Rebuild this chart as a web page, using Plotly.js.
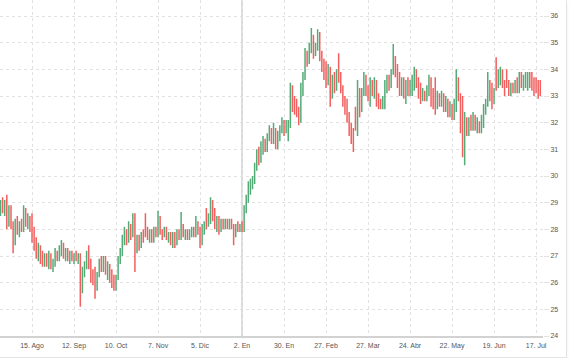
<!DOCTYPE html>
<html>
<head>
<meta charset="utf-8">
<script src="https://cdn.plot.ly/plotly-3.0.1.min.js"></script>
<style>
html,body{margin:0;padding:0;background:#fff;}
#wrap{width:566px;height:357px;border-right:1px solid #e4e4e4;border-bottom:1px solid #e4e4e4;box-shadow:0 3px 3px #eeeeee;}
#chart{width:566px;height:357px;}
</style>
</head>
<body>
<div id="wrap"><div id="chart"></div></div>
<script>
// trading days start
const startDate = '2022-07-25';
const barCount = 258;

const openVals = [
28.7,29.0,28.8,29.0,28.2,28.7,28.1,27.5,28.2,27.9,
28.1,28.0,28.7,28.3,28.4,28.0,27.7,27.4,27.1,27.3,
26.9,26.8,27.0,26.7,27.0,26.6,26.7,27.1,26.9,27.2,
27.4,27.0,27.2,26.9,27.1,26.9,27.0,26.9,27.0,25.9,
26.4,26.6,27.0,26.7,26.2,26.1,25.8,26.3,26.8,26.5,
26.9,26.4,26.6,26.2,26.0,25.9,26.2,26.9,27.2,27.6,
27.9,27.6,28.1,27.8,28.3,27.2,27.6,27.4,27.8,28.4,
27.9,27.7,27.9,27.6,28.0,27.8,28.4,27.9,27.8,28.0,
27.7,27.8,27.5,27.8,27.5,27.9,27.7,28.1,27.8,27.9,
27.7,27.9,28.0,27.8,28.2,27.9,27.5,28.0,28.7,28.2,
28.5,29.0,28.4,28.1,28.4,28.0,28.3,28.1,28.3,28.1,
28.3,28.1,27.8,28.1,28.0,28.1,28.0,28.8,29.1,29.5,
29.7,29.8,30.3,30.8,30.6,31.1,31.3,31.0,31.4,31.7,
31.4,31.5,31.2,31.5,31.8,32.0,31.7,31.6,31.9,33.2,
32.7,32.5,32.4,32.1,33.2,33.7,34.5,34.3,34.8,35.2,
34.6,34.9,35.3,34.5,34.1,33.8,33.5,34.0,33.0,33.6,
33.3,34.4,33.7,33.3,32.8,32.5,32.2,31.8,31.6,32.5,
31.9,33.2,32.5,33.1,33.6,33.2,33.0,33.4,33.1,33.5,
32.8,32.7,32.6,32.9,33.4,33.6,33.4,33.9,34.4,33.9,
33.5,33.2,33.6,33.1,33.5,33.2,33.4,33.6,33.9,33.5,
33.1,32.9,33.1,32.9,33.2,33.5,32.9,33.5,32.6,33.0,
32.8,33.0,32.6,32.8,32.4,32.5,32.3,32.7,33.6,33.0,
32.4,31.0,32.1,31.7,32.0,31.9,32.2,31.8,32.0,31.7,
32.2,32.5,32.8,33.5,33.4,32.8,34.2,33.5,33.8,33.9,
33.5,33.9,33.4,33.2,33.4,33.3,33.5,33.2,33.7,33.5,
33.7,33.4,33.8,33.5,33.4,33.6,33.3,33.4];

const highVals = [
29.1,29.2,29.1,29.3,28.9,28.9,28.3,28.4,28.5,28.3,
28.4,28.9,28.8,28.6,28.5,28.6,28.1,27.7,27.5,27.4,
27.2,27.1,27.1,27.2,27.1,26.9,27.3,27.2,27.4,27.6,
27.5,27.3,27.3,27.2,27.2,27.1,27.2,27.1,27.1,26.6,
26.8,27.2,27.4,26.9,26.5,26.6,26.4,26.9,27.0,27.0,
27.0,26.8,26.7,26.5,26.3,26.3,27.0,27.3,27.8,28.1,
28.0,28.3,28.2,28.6,28.6,27.8,27.8,27.9,28.0,28.6,
28.1,28.0,28.0,28.1,28.1,28.7,28.5,28.0,28.1,28.1,
27.9,27.9,27.9,27.9,28.0,28.0,28.65,28.2,28.0,28.0,
28.0,28.1,28.1,28.5,28.3,28.1,28.2,28.3,28.8,28.6,
29.2,29.1,28.8,28.5,28.5,28.4,28.4,28.4,28.4,28.4,
28.4,28.2,28.2,28.3,28.2,28.3,28.9,29.3,29.8,29.9,
30.0,30.5,31.0,31.1,31.3,31.5,31.4,31.6,31.9,31.8,
32.0,31.8,31.7,31.9,32.2,32.1,32.1,32.1,33.5,33.4,
33.0,32.9,32.6,33.5,33.9,34.8,34.7,35.0,35.55,35.3,
35.0,35.5,35.4,34.7,34.4,34.3,34.2,34.1,33.8,33.9,
34.0,34.6,33.9,33.4,33.0,32.9,32.4,32.0,31.8,32.6,
33.6,33.3,33.3,33.9,33.8,33.4,33.7,33.6,33.7,33.6,
33.1,32.9,33.0,33.6,33.8,33.8,34.0,34.95,34.5,34.2,
33.9,33.7,33.7,33.6,33.7,33.6,33.8,34.1,34.0,33.7,
33.5,33.3,33.2,33.4,33.8,33.7,33.3,33.7,33.2,33.1,
33.2,33.1,33.0,32.9,32.8,32.7,32.9,34.0,33.7,33.1,
33.0,32.4,32.2,32.2,32.3,32.4,32.3,32.2,32.05,32.3,
32.7,32.9,33.9,33.6,33.5,33.3,34.45,34.0,34.1,34.0,
33.6,34.0,33.6,33.5,33.5,33.6,33.7,33.9,33.9,33.8,
33.9,33.9,33.9,33.9,33.7,33.7,33.6,33.6];

const lowVals = [
28.5,28.6,28.5,28.0,28.1,28.0,27.1,27.4,27.8,27.7,
27.9,27.9,28.1,28.0,27.9,27.5,27.2,26.9,26.8,26.7,
26.6,26.6,26.6,26.5,26.5,26.4,26.6,26.8,26.8,27.0,
26.9,26.8,26.8,26.7,26.8,26.7,26.8,26.7,25.1,25.6,
26.2,26.5,26.5,26.0,25.9,25.4,25.7,26.2,26.4,26.4,
26.3,26.1,26.0,25.8,25.7,25.7,26.1,26.7,27.0,27.4,
27.4,27.5,27.6,27.7,26.4,27.1,27.2,27.3,27.5,27.7,
27.6,27.5,27.5,27.5,27.7,27.7,27.8,27.6,27.7,27.6,
27.5,27.4,27.3,27.3,27.4,27.6,27.6,27.7,27.6,27.6,
27.6,27.7,27.7,27.7,27.8,27.3,27.4,27.8,28.0,28.1,
28.2,28.3,28.0,27.9,27.8,27.9,28.0,28.0,28.0,28.0,
28.0,27.4,27.7,27.9,27.9,27.9,27.9,28.6,29.0,29.3,
29.5,29.7,30.2,30.4,30.5,30.8,30.9,30.9,31.3,31.2,
31.2,31.0,31.0,31.3,31.6,31.5,31.6,31.3,31.8,32.4,
32.3,32.2,31.9,32.0,33.0,33.6,34.1,34.2,34.6,34.4,
34.5,34.7,34.3,33.9,33.6,33.3,33.4,32.6,32.9,33.1,
33.2,33.5,33.1,32.6,32.3,32.0,31.5,31.2,30.9,31.7,
31.5,32.2,32.4,33.0,33.0,32.8,32.6,33.0,32.9,32.6,
32.5,32.5,32.5,32.5,33.1,33.2,33.3,33.8,33.7,33.3,
33.0,33.0,32.9,32.7,33.0,33.0,33.0,33.2,33.3,32.9,
32.7,32.8,32.8,32.8,33.0,32.6,32.5,32.3,32.5,32.6,
32.6,32.4,32.4,32.2,32.2,32.1,32.1,32.4,32.8,31.6,
30.7,30.4,31.5,31.5,31.7,31.7,31.7,31.6,31.6,31.6,
31.8,32.3,32.6,32.8,32.5,32.7,33.2,33.3,33.4,33.3,
33.0,33.3,33.0,33.0,33.1,33.1,33.1,33.1,33.3,33.2,
33.3,33.2,33.3,33.2,33.0,33.1,32.9,33.0];

const closeVals = [
29.0,28.8,29.0,28.2,28.7,28.1,27.5,28.2,27.9,28.1,
28.0,28.7,28.3,28.4,28.0,27.7,27.4,27.1,27.3,26.9,
26.8,27.0,26.7,27.0,26.6,26.7,27.1,26.9,27.2,27.4,
27.0,27.2,26.9,27.1,26.9,27.0,26.9,27.0,25.9,26.4,
26.6,27.0,26.7,26.2,26.1,25.8,26.3,26.8,26.5,26.9,
26.4,26.6,26.2,26.0,25.9,26.2,26.9,27.2,27.6,27.9,
27.6,28.1,27.8,28.3,27.2,27.6,27.4,27.8,27.6,27.9,
27.7,27.9,27.6,28.0,27.8,28.4,27.9,27.8,28.0,27.7,
27.8,27.5,27.8,27.5,27.9,27.7,28.1,27.8,27.9,27.7,
27.9,28.0,27.8,28.2,27.9,27.5,28.0,28.1,28.2,28.5,
29.0,28.4,28.1,28.4,28.0,28.3,28.1,28.3,28.1,28.3,
28.1,27.8,28.1,28.0,28.1,28.0,28.8,29.1,29.6,29.7,
29.8,30.3,30.8,30.6,31.1,31.3,31.0,31.4,31.7,31.4,
31.5,31.2,31.5,31.8,32.0,31.7,32.0,31.9,33.2,32.7,
32.5,32.4,32.1,33.2,33.7,34.5,34.3,34.8,35.2,34.6,
34.9,35.3,34.5,34.1,33.8,33.5,34.0,33.0,33.6,33.3,
33.8,33.7,33.3,32.8,32.5,32.2,31.8,31.5,31.3,31.9,
33.2,32.5,33.1,33.6,33.2,33.0,33.4,33.1,33.5,32.8,
32.7,32.6,32.9,33.4,33.6,33.4,33.9,34.4,33.9,33.5,
33.2,33.6,33.1,33.5,33.2,33.4,33.6,33.9,33.5,33.1,
32.9,33.1,32.9,33.2,33.5,32.9,32.7,32.6,33.0,32.8,
33.0,32.6,32.8,32.4,32.5,32.3,32.7,33.6,33.0,32.0,
31.0,32.1,31.7,32.0,31.9,32.2,31.8,32.0,31.7,32.2,
32.5,32.8,33.5,33.0,32.8,33.1,33.5,33.8,33.9,33.5,
33.2,33.4,33.2,33.4,33.3,33.5,33.2,33.7,33.5,33.7,
33.8,33.8,33.5,33.4,33.2,33.3,33.1,33.2];

const tickDates = ['2022-08-15','2022-09-12','2022-10-10','2022-11-07','2022-12-05','2023-01-02','2023-01-30','2023-02-27','2023-03-27','2023-04-24','2023-05-22','2023-06-19','2023-07-17'];
const tickLabels = ['15. Ago','12. Sep','10. Oct','7. Nov','5. Dic','2. En','30. En','27. Feb','27. Mar','24. Abr','22. May','19. Jun','17. Jul'];
const yearStart = '2023-01-02';

// weekday dates for the bars
const dates = [];
{
  const d = new Date(startDate + 'T00:00:00Z');
  while (dates.length < barCount) {
    const wd = d.getUTCDay();
    if (wd !== 0 && wd !== 6) dates.push(d.toISOString().slice(0, 10));
    d.setUTCDate(d.getUTCDate() + 1);
  }
}

const trace = {
  type: 'ohlc',
  x: dates,
  open: openVals, high: highVals, low: lowVals, close: closeVals,
  increasing: {line: {color: '#55ab78', width: 1.5}},
  decreasing: {line: {color: '#f25f5f', width: 1.5}},
  tickwidth: 0.15,
  hoverinfo: 'skip'
};

const layout = {
  width: 566, height: 357,
  margin: {l: 0, r: 23, t: 0, b: 21},
  paper_bgcolor: '#ffffff', plot_bgcolor: '#ffffff',
  showlegend: false,
  font: {family: 'Liberation Sans, Arial, sans-serif', size: 7, color: '#555'},
  xaxis: {
    type: 'category',
    range: [-0.24, 258.3],
    rangeslider: {visible: false},
    tickmode: 'array', tickvals: tickDates, ticktext: tickLabels,
    showgrid: true, gridcolor: '#e2e2e2', griddash: 'dot', gridwidth: 1,
    showline: true, linecolor: '#d2d2d2', linewidth: 2,
    ticks: '', ticklabelstandoff: 2,
    tickfont: {size: 7, color: '#555'},
    zeroline: false, fixedrange: true
  },
  yaxis: {
    side: 'right',
    range: [24, 36.6],
    tickmode: 'linear', tick0: 24, dtick: 1,
    showgrid: true, gridcolor: '#e2e2e2', griddash: 'dot', gridwidth: 1,
    ticks: 'outside', ticklen: 5, tickcolor: '#e2e2e2',
    tickfont: {size: 7, color: '#555'},
    zeroline: false, showline: false, fixedrange: true
  },
  shapes: [{
    type: 'line', xref: 'x', yref: 'paper',
    x0: yearStart, x1: yearStart, y0: 0, y1: 1,
    line: {color: '#cfcfcf', width: 1.5}, layer: 'below'
  }]
};

Plotly.newPlot('chart', [trace], layout, {displayModeBar: false, staticPlot: true});
</script>
</body>
</html>
